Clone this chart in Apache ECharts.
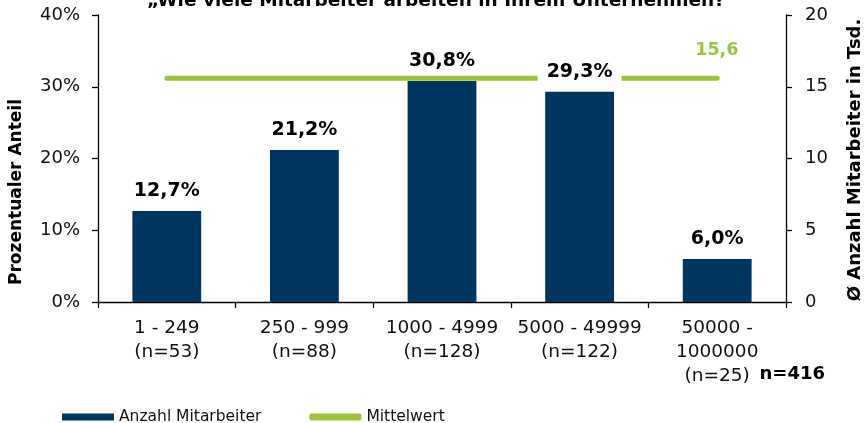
<!DOCTYPE html>
<html><head><meta charset="utf-8">
<script src="https://cdn.jsdelivr.net/npm/echarts@6/dist/echarts.min.js"></script>
<style>html,body{margin:0;padding:0;background:#fff}#c{width:864px;height:423px}</style>
</head><body><div id="c"></div>
<script>
var categories = ['1 - 249\n(n=53)', '250 - 999\n(n=88)', '1000 - 4999\n(n=128)', '5000 - 49999\n(n=122)', '50000 -\n1000000\n(n=25)'];
var shareValues = [12.7, 21.2, 30.8, 29.3, 6.0];
var meanValues = [15.6, 15.6, 15.6, 15.6, 15.6];
var leftTicks = {min: 0, max: 40, interval: 10};
var rightTicks = {min: 0, max: 20, interval: 5};

var chart = echarts.init(document.getElementById('c'));
var fmt = function (v) { return String(v.toFixed(1)).replace('.', ','); };
var axisLine = {show: true, lineStyle: {color: '#000', width: 1.3}};
var tick = {show: true, length: 6, lineStyle: {color: '#000', width: 1.3}};
chart.setOption({
  animation: false,
  title: {text: '\u201EWie viele Mitarbeiter arbeiten in Ihrem Unternehmen?', left: 147, top: -8, padding: 0,
    textStyle: {fontFamily: 'DejaVu Sans', fontWeight: 'bold', fontSize: 18.5, color: '#000'}},
  grid: {left: 98, right: 78, top: 15, bottom: 121},
  legend: {left: 62, top: 409, padding: 0, itemWidth: 52, itemHeight: 7, itemGap: 48,
    textStyle: {fontFamily: 'DejaVu Sans', fontSize: 15.5, color: '#111'},
    data: [{name: 'Anzahl Mitarbeiter', icon: 'rect'}, {name: 'Mittelwert', icon: 'roundRect', itemStyle: {color: '#9DC33B'}}]},
  xAxis: {type: 'category', data: categories, axisLine: axisLine, axisTick: tick,
    axisLabel: {interval: 0, margin: 14, fontFamily: 'DejaVu Sans', fontSize: 18.5, lineHeight: 24, color: '#111'}},
  yAxis: [
    {type: 'value', min: leftTicks.min, max: leftTicks.max, interval: leftTicks.interval, splitLine: {show: false},
      axisLine: axisLine, axisTick: tick,
      axisLabel: {formatter: '{value}%', margin: 18, fontFamily: 'DejaVu Sans', fontSize: 18, color: '#111'}},
    {type: 'value', min: rightTicks.min, max: rightTicks.max, interval: rightTicks.interval, splitLine: {show: false},
      axisLine: axisLine, axisTick: tick,
      axisLabel: {margin: 19, fontFamily: 'DejaVu Sans', fontSize: 18, color: '#111'}}
  ],
  graphic: [
    {type: 'text', x: 17, y: 192, rotation: Math.PI / 2,
      style: {text: 'Prozentualer Anteil', fontFamily: 'DejaVu Sans', fontWeight: 'bold', fontSize: 17, fill: '#000', align: 'center', verticalAlign: 'middle'}},
    {type: 'text', x: 855, y: 160, rotation: Math.PI / 2,
      style: {text: '\u00D8 Anzahl Mitarbeiter in Tsd.', fontFamily: 'DejaVu Sans', fontWeight: 'bold', fontSize: 18, fill: '#000', align: 'center', verticalAlign: 'middle'}},
    {type: 'text', x: 825, y: 374,
      style: {text: 'n=416', fontFamily: 'DejaVu Sans', fontWeight: 'bold', fontSize: 18, fill: '#000', align: 'right', verticalAlign: 'middle'}}
  ],
  series: [
    {name: 'Anzahl Mitarbeiter', type: 'bar', data: shareValues, barWidth: '50%', z: 3,
      itemStyle: {color: '#00355F'},
      label: {show: true, position: 'top', distance: 9, formatter: function (p) { return fmt(p.value) + '%'; },
        fontFamily: 'DejaVu Sans', fontWeight: 'bold', fontSize: 19, color: '#000',
        backgroundColor: '#fff', padding: [1, 9, 1, 9]}},
    {name: 'Mittelwert', type: 'line', yAxisIndex: 1, data: meanValues, z: 2, symbol: 'none',
      lineStyle: {color: '#9DC33B', width: 5, cap: 'round'}, itemStyle: {color: '#9DC33B'},
      endLabel: {show: true, formatter: function (p) { return fmt(p.value); }, offset: [-30, -28],
        fontFamily: 'DejaVu Sans', fontWeight: 'bold', fontSize: 17.5, color: '#9DC33B'}}
  ]
});
</script></body></html>
